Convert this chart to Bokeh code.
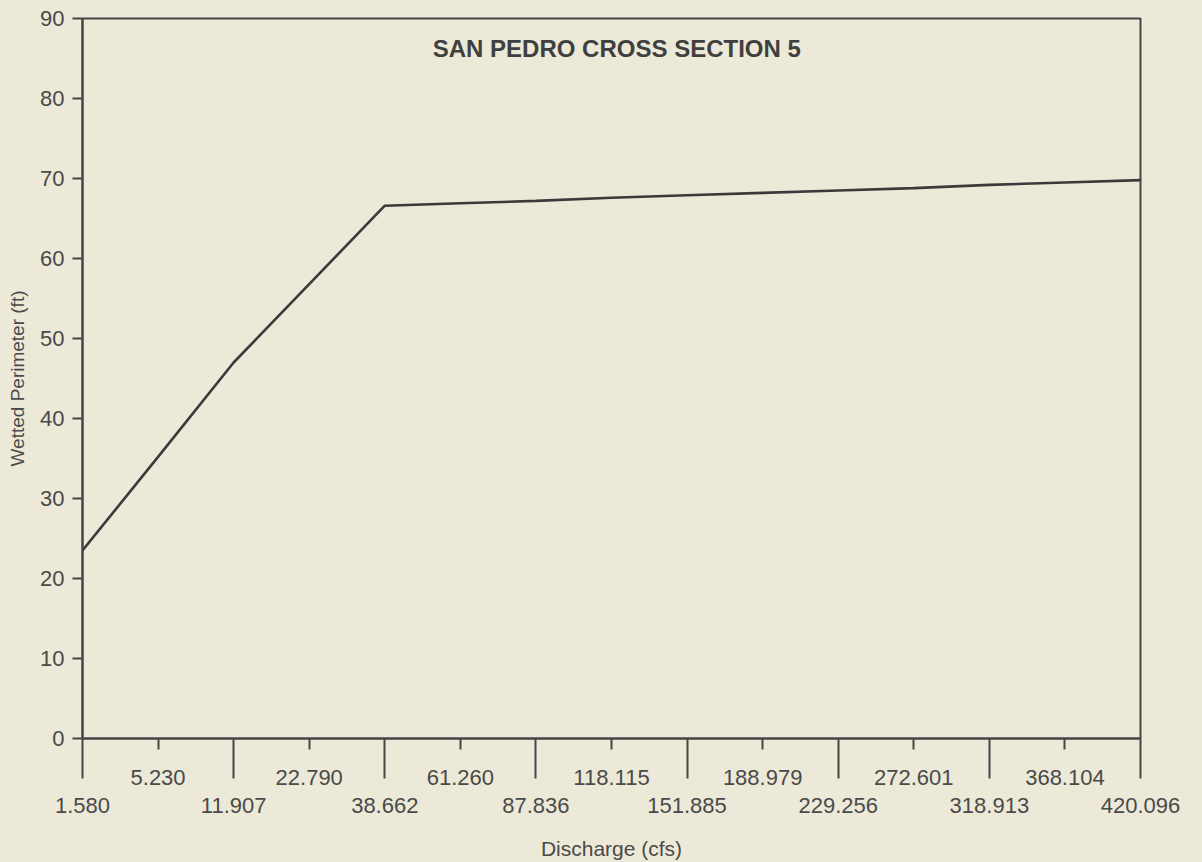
from bokeh.plotting import figure
from bokeh.models import Range1d, FixedTicker, LinearAxis, Label
from bokeh.embed import file_html
from bokeh.resources import INLINE

# ---- data ----
discharge_labels = ["1.580", "5.230", "11.907", "22.790", "38.662", "61.260", "87.836",
                    "118.115", "151.885", "188.979", "229.256", "272.601", "318.913",
                    "368.104", "420.096"]
wetted_perimeter = [23.5, 35.2, 47.0, 56.8, 66.6, 66.9, 67.2, 67.6, 67.9, 68.2,
                    68.5, 68.8, 69.2, 69.5, 69.8]
y_ticks = [0, 10, 20, 30, 40, 50, 60, 70, 80, 90]
title_text = "SAN PEDRO CROSS SECTION 5"
x_title = "Discharge (cfs)"
y_title = "Wetted Perimeter (ft)"

positions = list(range(len(discharge_labels)))
upper_pos = positions[1::2]
lower_pos = positions[0::2]

BG = "#ECE9D8"
INK = "#454545"
TXT = "#4a4a4a"
FONT = "Liberation Sans"

p = figure(width=1202, height=862, output_backend="svg", toolbar_location=None,
           x_range=Range1d(positions[0], positions[-1]), y_range=Range1d(0, 90),
           min_border_left=82, min_border_right=62, min_border_top=18, min_border_bottom=10)
p.background_fill_color = BG
p.border_fill_color = BG
p.outline_line_color = INK
p.outline_line_width = 2
p.grid.visible = False

p.line(positions, wetted_perimeter, line_color="#3a3a3a", line_width=2.6)

# y axis
ya = p.yaxis[0]
ya.ticker = FixedTicker(ticks=y_ticks, minor_ticks=[])
ya.axis_line_color = INK
ya.axis_line_width = 2
ya.major_tick_line_color = INK
ya.major_tick_line_width = 2
ya.major_tick_out = 10
ya.major_tick_in = 0
ya.minor_tick_line_color = None
ya.major_label_standoff = 8
ya.major_label_text_font = FONT
ya.major_label_text_font_size = "22px"
ya.major_label_text_color = TXT
ya.axis_label = y_title
ya.axis_label_text_font = FONT
ya.axis_label_text_font_style = "normal"
ya.axis_label_text_font_size = "19px"
ya.axis_label_text_color = TXT
ya.axis_label_standoff = 9

# x axis 1: upper-row labels, short ticks at odd positions, long ticks at even positions
xa = p.xaxis[0]
xa.ticker = FixedTicker(ticks=upper_pos, minor_ticks=lower_pos)
xa.major_label_overrides = {i: discharge_labels[i] for i in upper_pos}
xa.axis_line_color = INK
xa.axis_line_width = 2
xa.major_tick_line_color = INK
xa.major_tick_line_width = 2
xa.major_tick_out = 11
xa.major_tick_in = 0
xa.minor_tick_line_color = INK
xa.minor_tick_line_width = 2
xa.minor_tick_out = 40
xa.minor_tick_in = 0
xa.major_label_standoff = -9
xa.major_label_text_font = FONT
xa.major_label_text_font_size = "22px"
xa.major_label_text_color = TXT

# x axis 2: lower-row labels
xb = LinearAxis(ticker=FixedTicker(ticks=lower_pos, minor_ticks=[]))
xb.major_label_overrides = {i: discharge_labels[i] for i in lower_pos}
xb.axis_line_color = None
xb.major_tick_line_color = None
xb.minor_tick_line_color = None
xb.major_tick_out = 0
xb.major_tick_in = 0
xb.major_label_standoff = 10
xb.major_label_text_font = FONT
xb.major_label_text_font_size = "22px"
xb.major_label_text_color = TXT
xb.axis_label = x_title
xb.axis_label_text_font = FONT
xb.axis_label_text_font_style = "normal"
xb.axis_label_text_font_size = "21px"
xb.axis_label_text_color = TXT
xb.axis_label_standoff = 21
p.add_layout(xb, "below")

title = Label(x=(positions[0] + positions[-1]) / 2 + 0.07, y=86.3, text=title_text,
              text_align="center", text_baseline="middle",
              text_font=FONT, text_font_style="bold", text_font_size="24px",
              text_color="#3f3f3f")
p.add_layout(title)

html = file_html(p, INLINE)
html = html.replace("<head>", "<head><style>html,body{background:%s;}</style>" % BG, 1)
open("out.html", "w").write(html)
